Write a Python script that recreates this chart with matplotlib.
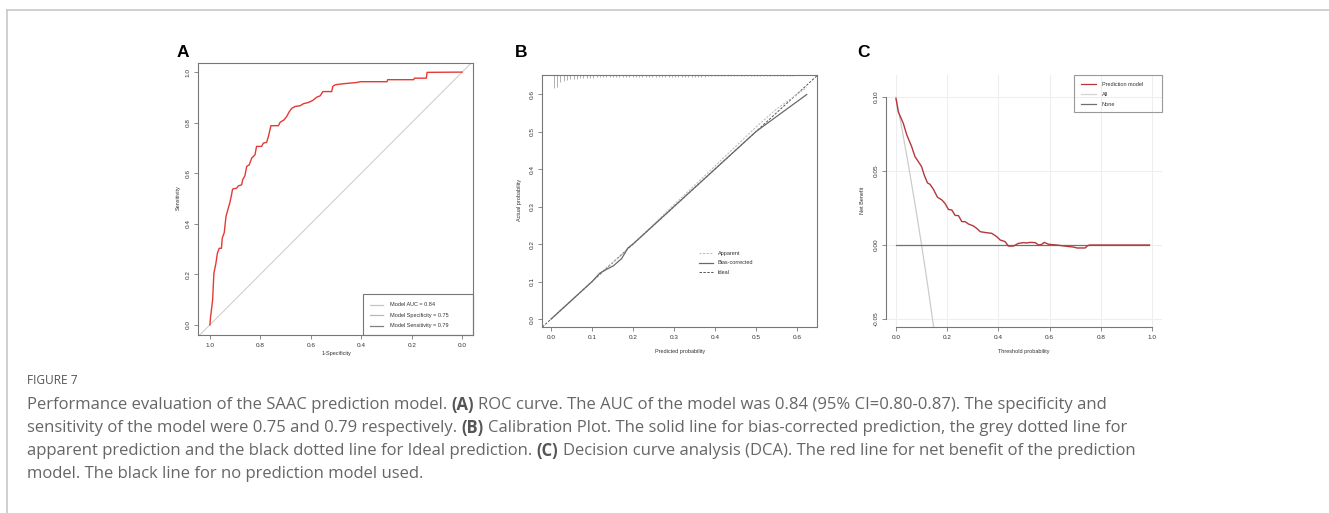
import matplotlib
matplotlib.use("Agg")
import matplotlib.pyplot as plt
from matplotlib.lines import Line2D
from matplotlib.patches import Rectangle
import numpy as np

W, H = 1329, 513
plt.rcParams['font.family'] = ['Liberation Sans', 'DejaVu Sans']

# ---------------- data ----------------
# A: ROC curve (specificity, sensitivity)
roc_spec = [1.0, 0.997, 0.989, 0.984, 0.976, 0.970, 0.963, 0.954, 0.951, 0.943,
            0.936, 0.927, 0.921, 0.914, 0.910, 0.894, 0.887, 0.874, 0.870, 0.861,
            0.854, 0.844, 0.834, 0.821, 0.815, 0.795, 0.788, 0.775, 0.768, 0.758,
            0.728, 0.722, 0.706, 0.695, 0.685, 0.675, 0.662, 0.642, 0.629, 0.609,
            0.592, 0.576, 0.563, 0.552, 0.517, 0.513, 0.503, 0.470, 0.417, 0.404,
            0.298, 0.295, 0.192, 0.189, 0.142, 0.139, 0.0]
roc_sens = [0.0, 0.033, 0.099, 0.204, 0.244, 0.284, 0.303, 0.303, 0.343, 0.365,
            0.429, 0.462, 0.482, 0.515, 0.537, 0.541, 0.550, 0.554, 0.574, 0.590,
            0.627, 0.633, 0.660, 0.673, 0.706, 0.706, 0.719, 0.722, 0.745, 0.788,
            0.788, 0.801, 0.811, 0.825, 0.844, 0.857, 0.864, 0.867, 0.875, 0.880,
            0.888, 0.901, 0.906, 0.923, 0.923, 0.943, 0.950, 0.954, 0.959, 0.962,
            0.962, 0.970, 0.970, 0.976, 0.976, 0.999, 1.0]
roc_legend = ['Model AUC = 0.84', 'Model Specificity = 0.75', 'Model Sensitivity = 0.79']

# B: calibration
cal_x = [0.0, 0.05, 0.10, 0.119, 0.136, 0.152, 0.172, 0.188, 0.20, 0.25, 0.30,
         0.40, 0.50, 0.55, 0.624]
cal_bias = [0.0, 0.05, 0.10, 0.1225, 0.133, 0.142, 0.161, 0.190, 0.200, 0.250,
            0.300, 0.400, 0.500, 0.540, 0.599]
cal_apparent = [0.0, 0.05, 0.10, 0.121, 0.138, 0.153, 0.170, 0.190, 0.201, 0.252,
                0.305, 0.408, 0.512, 0.560, 0.618]
rug_counts = [13, 12, 7, 6, 5, 4.3, 4, 3.5, 3.2, 3, 2.8, 2.6, 2.5, 2.4, 2.3,
              2.2, 2.2, 2.1, 2.1, 2.0, 2.0, 2.0, 1.9, 1.9, 1.9, 1.8, 1.8, 1.8,
              1.8, 1.7, 1.7, 1.7, 1.7, 1.7, 1.6, 1.6, 1.6, 1.6, 1.6, 1.6, 1.5,
              1.5, 1.5, 1.5, 1.5, 1.5, 1.5, 1.4, 1.4, 1.4, 1.4, 1.4, 1.4, 1.3,
              1.3, 1.3, 1.3, 1.3, 1.2, 1.2, 1.2, 1.2, 1.1, 1.1, 1.1, 1.0, 1.0,
              1.0, 0.9, 0.9, 0.8, 0.8, 0.7, 0.6]
cal_legend = ['Apparent', 'Bias-corrected', 'Ideal']

# C: decision curve
dca_thr = [0.0, 0.009, 0.029, 0.042, 0.061, 0.074, 0.087, 0.100, 0.110, 0.123,
           0.133, 0.146, 0.162, 0.179, 0.192, 0.205, 0.218, 0.231, 0.244, 0.257,
           0.270, 0.283, 0.302, 0.315, 0.329, 0.355, 0.374, 0.394, 0.407, 0.426,
           0.439, 0.459, 0.478, 0.498, 0.511, 0.524, 0.544, 0.557, 0.570, 0.579,
           0.596, 0.628, 0.668, 0.694, 0.707, 0.739, 0.748, 0.756, 0.990]
dca_model = [0.099, 0.090, 0.082, 0.0745, 0.0666, 0.0598, 0.0564, 0.053, 0.0474,
             0.042, 0.041, 0.0377, 0.0323, 0.0305, 0.028, 0.024, 0.0237, 0.020,
             0.0199, 0.0158, 0.0158, 0.0142, 0.0129, 0.0113, 0.009, 0.0083, 0.0079,
             0.0056, 0.0034, 0.0023, -0.0007, -0.0007, 0.0011, 0.0016, 0.0014,
             0.0018, 0.0016, 0.0, 0.0005, 0.0018, 0.0005, 0.0, -0.0009, -0.0014,
             -0.002, -0.002, -0.0005, 0.0, 0.0]
all_thr = [0.0, 0.025, 0.05, 0.075, 0.10, 0.125, 0.15, 0.175]
all_nb = [0.100, 0.0769, 0.0526, 0.0270, 0.0, -0.0286, -0.0588, -0.0909]
none_thr = [0.0, 0.99]
none_nb = [0.0, 0.0]
dca_legend = ['Prediction model', 'All', 'None']

caption_title = 'FIGURE 7'
caption_lines = [
    [('Performance evaluation of the SAAC prediction model. ', False), ('(A)', True),
     (' ROC curve. The AUC of the model was 0.84 (95% CI=0.80-0.87). The specificity and', False)],
    [('sensitivity of the model were 0.75 and 0.79 respectively. ', False), ('(B)', True),
     (' Calibration Plot. The solid line for bias-corrected prediction, the grey dotted line for', False)],
    [('apparent prediction and the black dotted line for Ideal prediction. ', False), ('(C)', True),
     (' Decision curve analysis (DCA). The red line for net benefit of the prediction', False)],
    [('model. The black line for no prediction model used.', False)],
]

# ---------------- figure ----------------
fig = plt.figure(figsize=(W / 100, H / 100), dpi=100)
fig.patch.set_facecolor('white')


def px_axes(l, t, r, b):
    return fig.add_axes([l / W, 1 - b / H, (r - l) / W, (b - t) / H])


def fx(x):
    return x / W


def fy(y):
    return 1 - y / H


tick_fs = 4.6
lab_fs = 4.0
leg_fs = 4.0
box_col = '#777777'
txt_col = '#333333'


def style_r(ax, box=True):
    for s in ax.spines.values():
        s.set_color(box_col)
        s.set_linewidth(0.8)
        s.set_visible(box)
    ax.tick_params(length=3, width=0.6, color=box_col, labelsize=tick_fs,
                   labelcolor=txt_col, pad=2.5)
    ax.tick_params(axis='y', labelrotation=90)
    for lab in ax.get_yticklabels():
        lab.set_va('center')


def px_legend(labels, styles, x_line, x_text, rows, box=None, box_col='#777777'):
    if box is not None:
        l, t, r, b = box
        fig.add_artist(Rectangle((fx(l), fy(b)), (r - l) / W, (b - t) / H,
                                 fill=False, edgecolor=box_col, lw=0.8))
    for lab, st, yy in zip(labels, styles, rows):
        fig.add_artist(Line2D([fx(x_line[0]), fx(x_line[1])], [fy(yy), fy(yy)], **st))
        fig.text(fx(x_text), fy(yy), lab, ha='left', va='center', fontsize=leg_fs,
                 color=txt_col)


# ---- A: ROC ----
axA = px_axes(198, 63, 473, 335)
axA.set_xlim(1.047, -0.043)
axA.set_ylim(-0.04, 1.036)
axA.axline((1, 0), (0, 1), color='#d0d0d0', lw=0.8)
axA.plot(roc_spec, roc_sens, color='#e53935', lw=1.0)
axA.set_xticks([1.0, 0.8, 0.6, 0.4, 0.2, 0.0])
axA.set_yticks([0.0, 0.2, 0.4, 0.6, 0.8, 1.0])
axA.set_xticklabels(['1.0', '0.8', '0.6', '0.4', '0.2', '0.0'])
axA.set_yticklabels(['0.0', '0.2', '0.4', '0.6', '0.8', '1.0'])
style_r(axA)
fig.text(fx(178), fy(198), 'Sensitivity', rotation=90, ha='center', va='center',
         fontsize=lab_fs, color=txt_col)
fig.text(fx(337), fy(354), '1-Specificity', ha='center', va='center',
         fontsize=lab_fs, color=txt_col)
px_legend(roc_legend,
          [dict(color='#c4c4c4', lw=0.9), dict(color='#b8b8b8', lw=0.9),
           dict(color='#808080', lw=0.9)],
          (370, 383), 390, [305, 315, 325.5], box=(363, 294, 473, 335))

# ---- B: calibration ----
axB = px_axes(542, 75, 817, 327)
axB.set_xlim(-0.022, 0.649)
axB.set_ylim(-0.021, 0.651)
ytop = 0.651
rug_x = 0.007 + 0.008 * np.arange(len(rug_counts))
axB.vlines(rug_x, ytop - np.array(rug_counts) / 375.0, ytop, color='#b0b0b0', lw=0.7)
ideal_style = dict(color='#555555', lw=0.7, ls=(0, (2.5, 1.5)))
app_style = dict(color='#c0c0c0', lw=0.8, ls=(0, (2, 1.2)))
bias_style = dict(color='#6a6a6a', lw=0.9)
axB.axline((0, 0), (0.6, 0.6), **ideal_style)
axB.plot(cal_x, cal_apparent, **app_style)
axB.plot(cal_x, cal_bias, **bias_style)
axB.set_xticks([0.0, 0.1, 0.2, 0.3, 0.4, 0.5, 0.6])
axB.set_yticks([0.0, 0.1, 0.2, 0.3, 0.4, 0.5, 0.6])
style_r(axB)
fig.text(fx(520), fy(200), 'Actual probability', rotation=90, ha='center', va='center',
         fontsize=lab_fs, color=txt_col)
fig.text(fx(680), fy(352), 'Predicted probability', ha='center', va='center',
         fontsize=lab_fs, color=txt_col)
px_legend(cal_legend, [app_style, bias_style, ideal_style], (699, 713), 718,
          [253, 262.5, 272])

# ---- C: decision curve ----
axC = px_axes(886, 75, 1162, 327)
axC.set_xlim(-0.039, 1.039)
axC.set_ylim(-0.0554, 0.1149)
for gx in [0.0, 0.2, 0.4, 0.6, 0.8, 1.0]:
    axC.axvline(gx, color='#eeeeee', lw=0.8, zorder=0)
for gy in [-0.05, 0.0, 0.05, 0.10]:
    axC.axhline(gy, color='#eeeeee', lw=0.8, zorder=0)
red_c = '#b5373a'
axC.plot(all_thr, all_nb, color='#cccccc', lw=0.9)
axC.plot(none_thr, none_nb, color='#707070', lw=0.9)
axC.plot(dca_thr, dca_model, color=red_c, lw=1.0)
axC.set_xticks([0.0, 0.2, 0.4, 0.6, 0.8, 1.0])
axC.set_yticks([-0.05, 0.0, 0.05, 0.10])
axC.set_yticklabels(['-0.05', '0.00', '0.05', '0.10'])
style_r(axC, box=False)
axC.spines['left'].set_visible(True)
axC.spines['bottom'].set_visible(True)
axC.spines['left'].set_bounds(-0.05, 0.10)
axC.spines['bottom'].set_bounds(0.0, 1.0)
fig.text(fx(863), fy(200), 'Net Benefit', rotation=90, ha='center', va='center',
         fontsize=lab_fs, color=txt_col)
fig.text(fx(1024), fy(352), 'Threshold probability', ha='center', va='center',
         fontsize=lab_fs, color=txt_col)
px_legend(dca_legend,
          [dict(color=red_c, lw=0.9), dict(color='#d4d4d4', lw=0.9),
           dict(color='#707070', lw=0.9)],
          (1081, 1096), 1102, [84, 94, 104], box=(1074, 75, 1162, 112),
          box_col='#999999')

# panel letters
for lx, ltxt in [(183, 'A'), (521.5, 'B'), (864, 'C')]:
    fig.text(fx(lx), fy(52.5), ltxt, ha='center', va='center', fontsize=12.5,
             fontweight='bold', color='black')

# frame lines of the figure page
fig.add_artist(Line2D([fx(7), 1.0], [fy(9.5), fy(9.5)], color='#c8c8c8', lw=1.2))
fig.add_artist(Line2D([fx(7), fx(7)], [fy(9.5), 0.0], color='#c8c8c8', lw=1.2))

# ---------------- caption ----------------
cap_font = ['Open Sans', 'DejaVu Sans']
cap_fs = 11.95
cap_col = '#666666'
fig.text(fx(27), fy(381), caption_title, ha='left', va='center', fontsize=8.6,
         color='#555555', family=cap_font)

renderer = fig.canvas.get_renderer()


def text_w(s, bold):
    t = fig.text(0, 0, s, fontsize=cap_fs, family=cap_font,
                 fontweight='bold' if bold else 'normal')
    w = t.get_window_extent(renderer).width
    t.remove()
    return w


space_w = text_w('a a', False) - text_w('aa', False)
line_y = [405, 428, 451, 474]
for yy, segs in zip(line_y, caption_lines):
    x = 27.0
    for s, bold in segs:
        lead = len(s) - len(s.lstrip(' '))
        trail = len(s) - len(s.rstrip(' '))
        x += lead * space_w
        core = s.strip(' ')
        fig.text(fx(x), fy(yy), core, ha='left', va='center', fontsize=cap_fs,
                 family=cap_font, fontweight='bold' if bold else 'normal',
                 color='#555555' if bold else cap_col)
        x += text_w(core, bold) + trail * space_w

fig.savefig('out.png', dpi=100, facecolor='white')
